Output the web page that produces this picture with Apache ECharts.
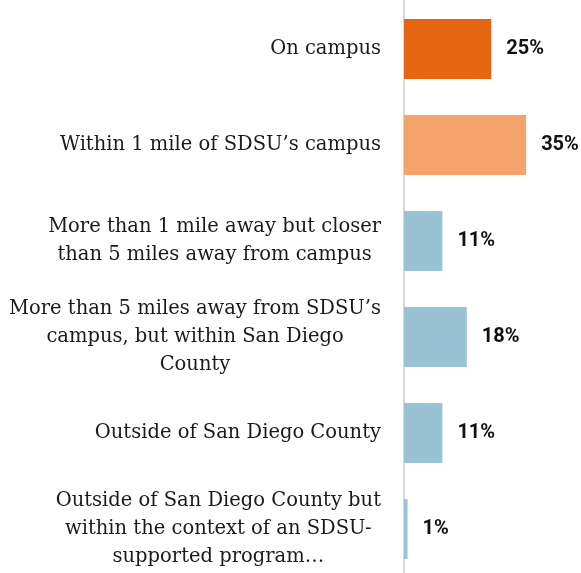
<!DOCTYPE html>
<html>
<head>
<meta charset="utf-8">
<script src="https://cdn.jsdelivr.net/npm/echarts@6/dist/echarts.min.js"></script>
<style>
  html, body { margin: 0; padding: 0; background: #fff; overflow: hidden; }
  #chart { width: 581px; height: 578px; }
</style>
</head>
<body>
<div id="chart"></div>
<script>
// Where students live (share of respondents, %)
const categories = [
    'On campus',
    'Within 1 mile of SDSU\u2019s campus',
    'More than 1 mile away but closer\nthan 5 miles away from campus',
    'More than 5 miles away from SDSU\u2019s\ncampus, but within San Diego\nCounty',
    'Outside of San Diego County',
    'Outside of San Diego County but\nwithin the context of an SDSU-\nsupported program\u2026'
];
const values = [25, 35, 11, 18, 11, 1];

const barColors = ['#E66512', '#F4A36B', '#99C2D4', '#99C2D4', '#99C2D4', '#99C2D4'];

const labelFont = 'DejaVu Serif';
const valueFont = 'Roboto';

// the plot runs a few px past the bottom of the window, so the chart box is taller than the page
const chart = echarts.init(document.getElementById('chart'));

const option = {
    animation: false,
    grid: {
        left: 404,
        right: 2.5,
        top: 1,
        bottom: 1,
        containLabel: false
    },
    xAxis: {
        type: 'value',
        min: 0,
        max: 50,
        show: false
    },
    yAxis: {
        type: 'category',
        inverse: true,
        data: categories,
        axisTick: { show: false },
        axisLine: {
            show: true,
            lineStyle: { color: '#d9d9d9', width: 2 }
        },
        axisLabel: {
            margin: 23,
            align: 'right',
            color: '#1a1a1a',
            fontFamily: labelFont,
            fontSize: 19.5,
            lineHeight: 28,
            // center each line inside the right-aligned block
            formatter: value => value.split('\n').map(line => '{c|' + line + '}').join('\n'),
            rich: {
                c: {
                    align: 'center',
                    color: '#1a1a1a',
                    fontFamily: labelFont,
                    fontSize: 19.5,
                    lineHeight: 28
                }
            }
        }
    },
    series: [{
        type: 'bar',
        barWidth: 60,
        data: values.map((v, i) => ({
            value: v,
            itemStyle: { color: barColors[i] }
        })),
        label: {
            show: true,
            position: 'right',
            distance: 15,
            formatter: p => p.value + '%',
            fontFamily: valueFont,
            fontWeight: 'bold',
            fontSize: 20,
            color: '#111'
        }
    }]
};

chart.setOption(option);
</script>
</body>
</html>
